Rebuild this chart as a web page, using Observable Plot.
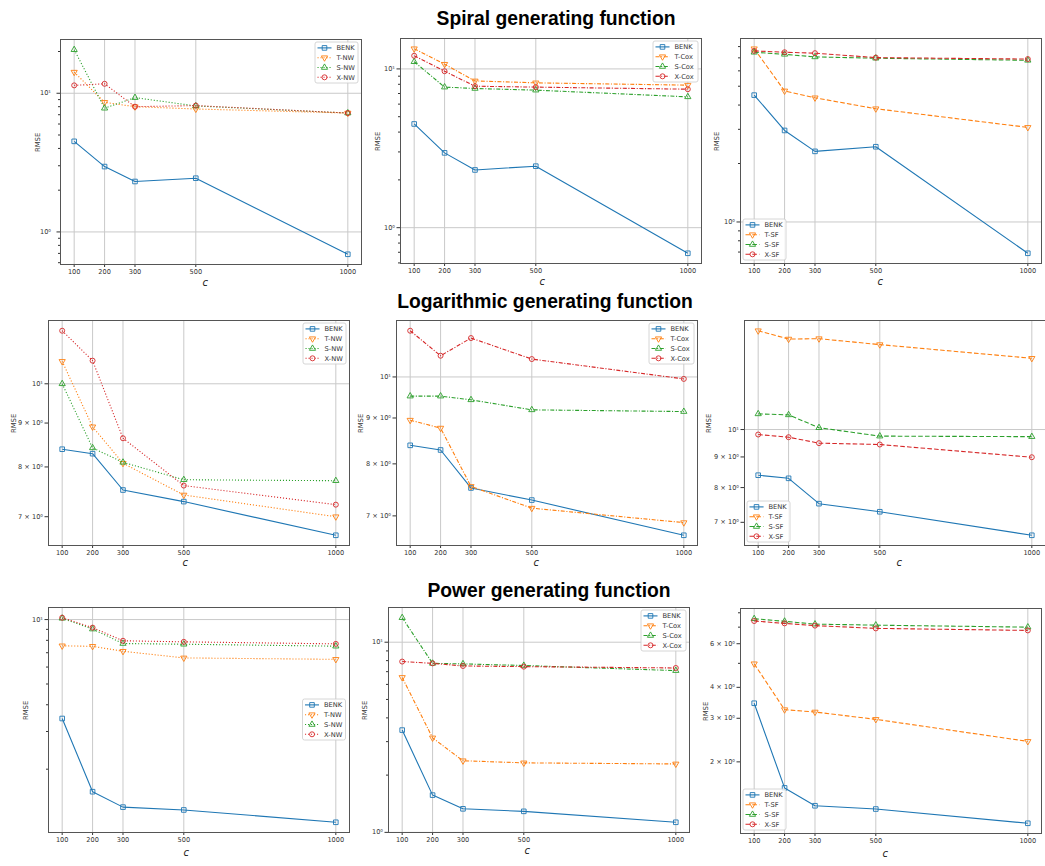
<!DOCTYPE html>
<html>
<head>
<meta charset="utf-8">
<script src="https://cdn.jsdelivr.net/npm/d3@7"></script>
<script src="https://cdn.jsdelivr.net/npm/@observablehq/plot@0.6"></script>
<style>
  html, body { margin: 0; padding: 0; background: #fff; }
  #root { position: relative; width: 1045px; height: 866px; overflow: hidden; font-family: "DejaVu Sans", sans-serif; }
  #root svg.panel { position: absolute; }
  #titles { position: absolute; left: 0; top: 0; }
</style>
</head>
<body>
<div id="root"></div>
<script>
// ---------------- DATA ----------------
const cValues = [100, 200, 300, 500, 1000];

const rowTitles = ["Spiral generating function", "Logarithmic generating function", "Power generating function"];
const methodNames = ["NW", "Cox", "SF"];
const variantNames = ["T", "S", "X"];

// Spiral generating function
const spiralBENK  = [4.5, 2.96, 2.31, 2.44, 0.69];
const spiralT_NW  = [14.2, 8.6, 8.0, 7.7, 7.2];
const spiralS_NW  = [20.6, 7.8, 9.3, 8.1, 7.2];
const spiralX_NW  = [11.4, 11.7, 8.0, 8.15, 7.2];
const spiralT_Cox = [13.4, 10.7, 8.4, 8.17, 7.9];
const spiralS_Cox = [11.1, 7.68, 7.53, 7.35, 6.67];
const spiralX_Cox = [12.1, 9.67, 7.78, 7.68, 7.45];
const spiralT_SF  = [7.8, 4.73, 4.36, 3.83, 3.07];
const spiralS_SF  = [7.48, 7.3, 7.08, 6.97, 6.8];
const spiralX_SF  = [7.6, 7.48, 7.4, 7.02, 6.9];

// Logarithmic generating function
const logBENK  = [8.39, 8.29, 7.52, 7.29, 6.66];
const logT_NW  = [10.62, 8.91, 8.08, 7.42, 7.0];
const logS_NW  = [10.0, 8.42, 8.1, 7.73, 7.71];
const logX_NW  = [11.53, 10.64, 8.64, 7.61, 7.23];
const logT_Cox = [8.95, 8.77, 7.55, 7.14, 6.88];
const logS_Cox = [9.52, 9.52, 9.43, 9.19, 9.15];
const logX_Cox = [11.26, 10.56, 11.05, 10.47, 9.95];
const logT_SF  = [14.62, 14.16, 14.18, 13.86, 13.15];
const logS_SF  = [10.62, 10.58, 10.07, 9.75, 9.73];
const logX_SF  = [9.81, 9.71, 9.49, 9.44, 8.99];

// Power generating function
const powerBENK  = [3.45, 1.57, 1.33, 1.29, 1.13];
const powerT_NW  = [7.54, 7.5, 7.11, 6.62, 6.52];
const powerS_NW  = [10.14, 9.03, 7.73, 7.67, 7.51];
const powerX_NW  = [10.2, 9.17, 7.96, 7.87, 7.7];
const powerT_Cox = [6.53, 3.14, 2.38, 2.32, 2.29];
const powerS_Cox = [13.45, 7.74, 7.69, 7.54, 7.09];
const powerX_Cox = [7.91, 7.74, 7.5, 7.44, 7.32];
const powerT_SF  = [4.98, 3.25, 3.18, 2.97, 2.42];
const powerS_SF  = [7.57, 7.39, 7.2, 7.13, 7.0];
const powerX_SF  = [7.41, 7.25, 7.1, 6.92, 6.79];

const benkByRow = [spiralBENK, logBENK, powerBENK];
const variantsByRow = [
  { NW: [spiralT_NW, spiralS_NW, spiralX_NW], Cox: [spiralT_Cox, spiralS_Cox, spiralX_Cox], SF: [spiralT_SF, spiralS_SF, spiralX_SF] },
  { NW: [logT_NW, logS_NW, logX_NW],          Cox: [logT_Cox, logS_Cox, logX_Cox],          SF: [logT_SF, logS_SF, logX_SF] },
  { NW: [powerT_NW, powerS_NW, powerX_NW],    Cox: [powerT_Cox, powerS_Cox, powerX_Cox],    SF: [powerT_SF, powerS_SF, powerX_SF] }
];

// ---------------- STYLE / LAYOUT ----------------
const colors = { BENK: "#1f77b4", T: "#ff7f0e", S: "#2ca02c", X: "#d62728" };
const dashes = { NW: "1.1,1.9", Cox: "4,1.6,1.1,1.6", SF: "4.6,2.2" };

const sqrt3 = Math.sqrt(3);
const triangleDown = {
  draw(context, size) {
    const y = -Math.sqrt(size / (sqrt3 * 3));
    context.moveTo(0, -y * 2);
    context.lineTo(-sqrt3 * y, y);
    context.lineTo(sqrt3 * y, y);
    context.closePath();
  }
};
const symbols = { BENK: "square", T: triangleDown, S: "triangle", X: "circle" };
const d3symbols = { BENK: d3.symbolSquare, T: triangleDown, S: d3.symbolTriangle, X: d3.symbolCircle };
const radii = { BENK: 2.6, T: 2.3, S: 2.3, X: 2.5 };

const FW = 301, FH = 225;
const mL = 52, mR = 6, mT = 5, mB = 36;

// frame positions (left, top), legend placement, label offsets
const layout = [
  { left: 59.6,  top: 38.5,  legend: "ur", ylab: 22.6, cx: 142, cy: 21.5, tpad: 6 },
  { left: 399.6, top: 38,    legend: "ur", ylab: 22.6, cx: 139, cy: 21.5, tpad: 2 },
  { left: 740.3, top: 38,    legend: "ll", ylab: 23.3, cx: 137, cy: 21.5, tpad: 2 },
  { left: 47.6,  top: 319.5, legend: "ur", ylab: 34.6, cx: 134, cy: 20.5, tpad: 2 },
  { left: 395.6, top: 320,   legend: "ur", ylab: 35.6, cx: 137, cy: 20.5, tpad: 2 },
  { left: 744.3, top: 320,   legend: "ll", ylab: 35.3, cx: 152, cy: 20.5, tpad: 2 },
  { left: 47.6,  top: 607,   legend: "cr", ylab: 22.6, cx: 135, cy: 23, tpad: 2 },
  { left: 388.3, top: 606.5, legend: "ur", ylab: 23.3, cx: 136, cy: 21.5, tpad: 2 },
  { left: 739.6, top: 607.5, legend: "ll", ylab: 34.6, cx: 142, cy: 23, tpad: 2 }
];
const titlePos = [ { x: 556, y: 25 }, { x: 545, y: 308 }, { x: 549, y: 597 } ];

// ---------------- HELPERS ----------------
const supMap = { "-": "⁻", "0": "⁰", "1": "¹", "2": "²", "3": "³", "4": "⁴", "5": "⁵", "6": "⁶", "7": "⁷", "8": "⁸", "9": "⁹" };
const sup = n => String(n).split("").map(ch => supMap[ch]).join("");

function logTicks(lo, hi) {
  const out = [];
  for (let e = Math.floor(Math.log10(lo)) - 1; e <= Math.ceil(Math.log10(hi)); e++) {
    for (let k = 1; k <= 9; k++) {
      const v = k * Math.pow(10, e);
      if (v >= lo && v <= hi) out.push({ v, k, e });
    }
  }
  return out;
}

const root = document.getElementById("root");

// titles
const tsvg = d3.select(root).append("svg").attr("id", "titles").attr("width", 1045).attr("height", 866);
rowTitles.forEach((t, i) => {
  tsvg.append("text")
    .attr("x", titlePos[i].x).attr("y", titlePos[i].y)
    .attr("text-anchor", "middle")
    .attr("font-family", "'Liberation Sans', Arial, sans-serif")
    .attr("font-weight", "bold")
    .attr("font-size", 19.3)
    .attr("fill", "#000")
    .text(t);
});

// ---------------- PANELS ----------------
for (let row = 0; row < 3; row++) {
  for (let col = 0; col < 3; col++) {
    const method = methodNames[col];
    const L = layout[row * 3 + col];
    const series = [{ key: "BENK", name: "BENK", values: benkByRow[row], dash: null }]
      .concat(variantNames.map((v, j) => ({ key: v, name: `${v}-${method}`, values: variantsByRow[row][method][j], dash: dashes[method] })));

    const rows = series.flatMap(s => cValues.map((c, i) => ({ c, v: s.values[i], name: s.name, key: s.key })));

    // matplotlib-like 5% margins (in log space for y)
    const allV = rows.map(d => d.v);
    const lo = Math.log10(d3.min(allV)), hi = Math.log10(d3.max(allV));
    const pad = (hi - lo) * 0.05;
    const yDomain = [Math.pow(10, lo - pad), Math.pow(10, hi + pad)];
    const xPad = (d3.max(cValues) - d3.min(cValues)) * 0.05;
    const xDomain = [d3.min(cValues) - xPad, d3.max(cValues) + xPad];

    const ticks = logTicks(yDomain[0], yDomain[1]);
    const numdec = Math.log10(yDomain[1] / yDomain[0]);
    const subset = numdec > 1 ? new Set([1]) : numdec > 0.4 ? new Set([1, 2, 3, 4, 6]) : new Set([1, 2, 3, 4, 5, 6, 7, 8, 9]);
    const majors = ticks.filter(t => t.k === 1);
    const labeled = ticks.filter(t => subset.has(t.k));
    const unlabeled = ticks.filter(t => !subset.has(t.k));
    const fmt = v => {
      const t = ticks.find(q => Math.abs(q.v - v) < 1e-9 * Math.max(1, v));
      if (!t) return "";
      return t.k === 1 ? `10${sup(t.e)}` : `${t.k} × 10${sup(t.e)}`;
    };

    const marks = [
      Plot.gridX({ ticks: cValues, stroke: "#c9c9c9", strokeOpacity: 1, strokeWidth: 1 }),
      Plot.gridY({ ticks: majors.map(t => t.v), stroke: "#c9c9c9", strokeOpacity: 1, strokeWidth: 1 }),
      Plot.axisX({ ticks: cValues, tickFormat: d => String(d), tickSize: 3, tickPadding: 2, fontSize: 6.6, label: null, anchor: "bottom" }),
      Plot.axisY({ ticks: labeled.map(t => t.v), tickFormat: fmt, tickSize: 3.5, tickPadding: L.tpad, fontSize: 6.6, label: null, anchor: "left" }),
      Plot.axisY({ ticks: unlabeled.map(t => t.v), tickFormat: () => "", tickSize: 2, label: null, anchor: "left" })
    ];
    series.forEach(s => {
      const d = rows.filter(r => r.name === s.name);
      marks.push(Plot.line(d, {
        x: "c", y: "v", stroke: colors[s.key], strokeWidth: 1.1,
        strokeDasharray: s.dash || undefined, strokeLinecap: "butt"
      }));
      marks.push(Plot.dot(d, {
        x: "c", y: "v", symbol: symbols[s.key], r: radii[s.key],
        stroke: colors[s.key], fill: "none", strokeWidth: 0.9
      }));
    });
    marks.push(Plot.frame({ stroke: "#555", strokeWidth: 1 }));
    marks.push(Plot.text(["RMSE"], { frameAnchor: "left", rotate: -90, dx: -L.ylab, fontSize: 6.8, fill: "#333" }));
    marks.push(Plot.text(["c"], { frameAnchor: "bottom-left", dx: L.cx, dy: L.cy, fontSize: 10, fontStyle: "italic", fill: "#222", fontFamily: "DejaVu Sans, sans-serif" }));

    const svg = Plot.plot({
      width: mL + FW + mR,
      height: mT + FH + mB,
      marginLeft: mL, marginRight: mR, marginTop: mT, marginBottom: mB,
      x: { type: "linear", domain: xDomain },
      y: { type: "log", domain: yDomain },
      style: { background: "transparent", overflow: "visible", maxWidth: "none", color: "#333", fontFamily: "DejaVu Sans, sans-serif" },
      marks
    });
    svg.classList.add("panel");
    svg.style.left = (L.left - mL) + "px";
    svg.style.top = (L.top - mT) + "px";
    svg.style.position = "absolute";

    // legend
    const lw = method === "Cox" ? 45 : 43, lh = 41;
    let bx, by;
    if (L.legend === "ur") { bx = mL + FW - 3 - lw; by = mT + 3; }
    else if (L.legend === "ll") { bx = mL + 3; by = mT + FH - 3 - lh; }
    else { bx = mL + FW - 3.5 - lw; by = mT + FH / 2 - lh / 2; }
    const g = d3.select(svg).append("g").attr("transform", `translate(${bx},${by})`);
    g.append("rect").attr("width", lw).attr("height", lh).attr("rx", 2)
      .attr("fill", "white").attr("fill-opacity", 0.85)
      .attr("stroke", "#cccccc").attr("stroke-width", 0.8);
    series.forEach((s, i) => {
      const yy = 5.9 + i * 9.8;
      g.append("line").attr("x1", 2.5).attr("x2", 16.5).attr("y1", yy).attr("y2", yy)
        .attr("stroke", colors[s.key]).attr("stroke-width", 1.1)
        .attr("stroke-dasharray", s.dash || null);
      g.append("path")
        .attr("d", d3.symbol(d3symbols[s.key], Math.PI * radii[s.key] * radii[s.key])())
        .attr("transform", `translate(9.5,${yy})`)
        .attr("fill", "none").attr("stroke", colors[s.key]).attr("stroke-width", 0.9);
      g.append("text").attr("x", 21.5).attr("y", yy).attr("dy", "0.35em")
        .attr("text-anchor", "start")
        .attr("font-family", "DejaVu Sans, sans-serif")
        .attr("font-size", 6.7).attr("fill", "#333").text(s.name);
    });

    root.appendChild(svg);
  }
}
</script>
</body>
</html>
